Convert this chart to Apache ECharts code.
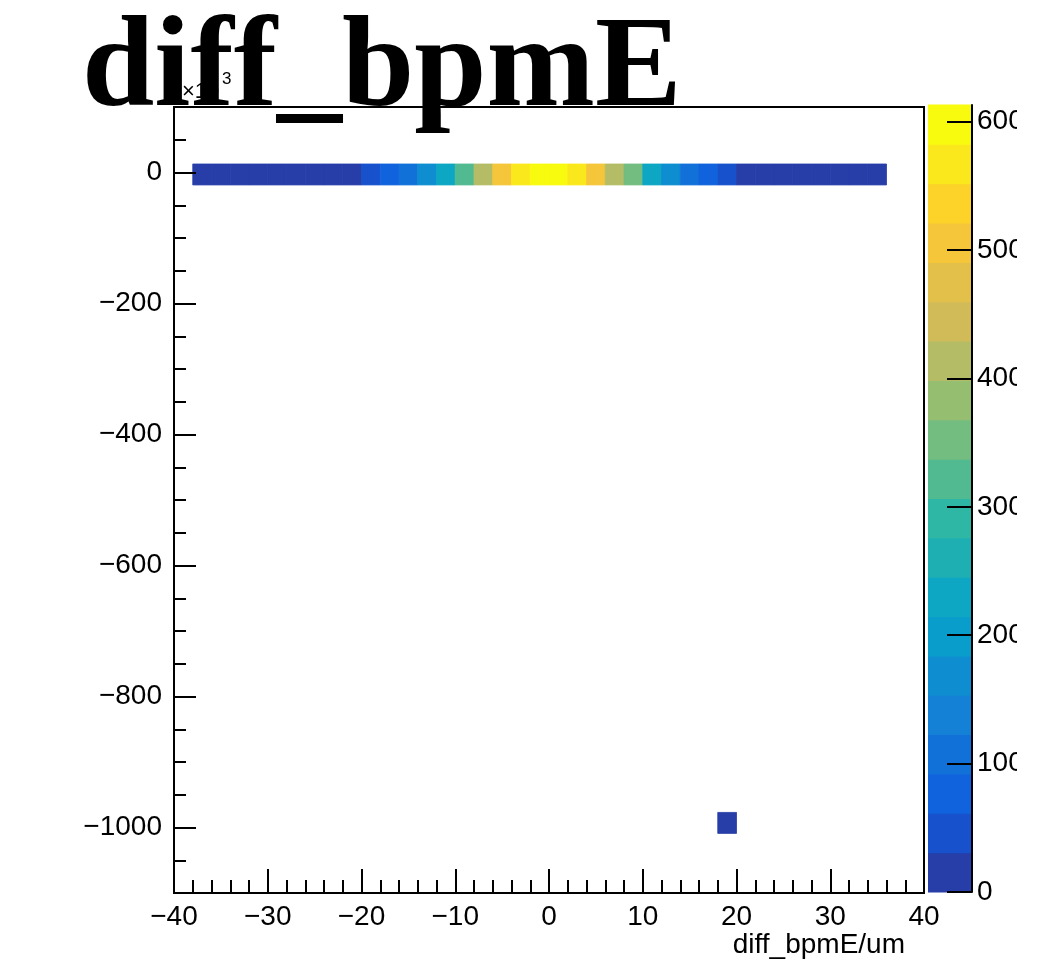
<!DOCTYPE html>
<html><head><meta charset="utf-8">
<script src="https://cdn.jsdelivr.net/npm/echarts@6/dist/echarts.min.js"></script>
<style>html,body{margin:0;padding:0;background:#fff;overflow:hidden}#c{width:1017px;height:974px}</style>
</head><body><div id="c"></div>
<script>
// ---------------- data ----------------
const titleText = 'diff_bpmE';
const xAxisTitle = 'diff_bpmE/um';
const yExponentBase = '\u00d710';
const yExponent = '3';
const xBinWidth = 2;
// left edges of the populated x bins of the row around y = 0
const rowXLow = [-38,-36,-34,-32,-30,-28,-26,-24,-22,-20,-18,-16,-14,-12,-10,-8,-6,-4,-2,0,2,4,6,8,10,12,14,16,18,20,22,24,26,28,30,32,34];
const rowCounts = [3,4,5,7,9,12,16,21,27,46,76,108,168,230,322,414,505,567,583,584,568,506,413,352,229,167,107,77,47,26,20,15,11,8,6,4,3];
const rowYLow = -19, rowYHigh = 13;          // y bin (x10^3)
// the single isolated bin near y = -1000
const outlierXLow = [18];
const outlierYLow = [-1009];
const outlierYHigh = [-977];
const outlierCounts = [1];
// axis ranges
const xMin = -40, xMax = 40;
const yMin = -1100, yMax = 100;
const zMax = 613;
const nContours = 20;
const colorbarTicks = [0, 100, 200, 300, 400, 500, 600];

// ---------------- palette (ROOT kBird) ----------------
const birdStops = [0.0, 0.125, 0.25, 0.375, 0.5, 0.625, 0.75, 0.875, 1.0];
const birdR = [0.2082, 0.0592, 0.0780, 0.0232, 0.1802, 0.5301, 0.8186, 0.9956, 0.9764];
const birdG = [0.1664, 0.3599, 0.5041, 0.6419, 0.7178, 0.7492, 0.7328, 0.7862, 0.9832];
const birdB = [0.5293, 0.8684, 0.8385, 0.7914, 0.6425, 0.4662, 0.3499, 0.1968, 0.0539];
function birdColor(f) {
  let k = 0;
  while (k < birdStops.length - 2 && f > birdStops[k + 1]) k++;
  const t = (f - birdStops[k]) / (birdStops[k + 1] - birdStops[k]);
  const c = a => Math.round(255 * (a[k] + (a[k + 1] - a[k]) * t));
  return 'rgb(' + c(birdR) + ',' + c(birdG) + ',' + c(birdB) + ')';
}
const bandColors = [];
for (let i = 0; i < nContours; i++) {
  const idx = Math.floor((i + 0.99) * 255 / nContours);
  bandColors.push(birdColor(Math.min(idx, 254) / 254));
}
const bandStep = zMax / nContours;
const pieces = bandColors.map((c, i) => (i === nContours - 1)
  ? { gte: i * bandStep, lte: zMax * 10, color: c }
  : { gte: i * bandStep, lt: (i + 1) * bandStep, color: c });

// ---------------- build cells ----------------
const cells = [];
rowXLow.forEach((x, i) => {
  if (rowCounts[i] > 0) cells.push([x, x + xBinWidth, rowYLow, rowYHigh, rowCounts[i]]);
});
outlierXLow.forEach((x, i) => {
  cells.push([x, x + xBinWidth, outlierYLow[i], outlierYHigh[i], outlierCounts[i]]);
});
const bands = bandColors.map((c, i) => [0, 1, i * bandStep, (i + 1) * bandStep, i]);

const minus = v => String(v).replace('-', '\u2212');
const FONT = '"Liberation Sans", Arial, Helvetica, sans-serif';
const LBL = 28;

const chart = echarts.init(document.getElementById('c'), null, { renderer: 'canvas' });
chart.setOption({
  backgroundColor: '#fff',
  animation: false,
  grid: [
    { left: 174, width: 750, top: 107, bottom: 81, show: true, borderColor: '#000', borderWidth: 2, backgroundColor: 'transparent', containLabel: false, outerBoundsMode: 'none' },
    { left: 928, width: 44, top: 105, bottom: 82, containLabel: false, outerBoundsMode: 'none' }
  ],
  xAxis: [
    {
      type: 'value', gridIndex: 0, min: xMin, max: xMax, interval: 10, z: 10,
      axisLine: { show: true, onZero: false, lineStyle: { color: '#000', width: 2 } },
      axisTick: { show: true, inside: true, length: 24, lineStyle: { color: '#000', width: 2 } },
      minorTick: { show: true, splitNumber: 5, length: 13, lineStyle: { color: '#000', width: 2 } },
      splitLine: { show: false },
      axisLabel: { show: true, margin: 10, color: '#000', fontFamily: FONT, fontSize: LBL, showMinLabel: true, showMaxLabel: true, formatter: minus }
    },
    {
      type: 'value', gridIndex: 1, min: 0, max: 1, show: false
    }
  ],
  yAxis: [
    {
      type: 'value', gridIndex: 0, min: yMin, max: yMax, splitNumber: 6, z: 10,
      axisLine: { show: true, onZero: false, lineStyle: { color: '#000', width: 2 } },
      axisTick: { show: true, inside: true, length: 22, lineStyle: { color: '#000', width: 2 } },
      minorTick: { show: true, splitNumber: 4, length: 12, lineStyle: { color: '#000', width: 2 } },
      splitLine: { show: false },
      axisLabel: { show: true, margin: 12, color: '#000', fontFamily: FONT, fontSize: LBL, showMinLabel: false, showMaxLabel: false, formatter: minus }
    },
    {
      type: 'value', gridIndex: 1, min: 0, max: zMax, position: 'right', z: 10,
      axisLine: { show: true, onZero: false, lineStyle: { color: '#000', width: 2 } },
      axisTick: { show: true, inside: true, length: 25, customValues: colorbarTicks, lineStyle: { color: '#000', width: 2 } },
      splitLine: { show: false },
      axisLabel: { show: true, margin: 5, color: '#000', fontFamily: FONT, fontSize: LBL, customValues: colorbarTicks }
    }
  ],
  visualMap: {
    type: 'piecewise', show: false, dimension: 4, seriesIndex: 0, pieces: pieces
  },
  series: [
    {
      type: 'custom', xAxisIndex: 0, yAxisIndex: 0, data: cells, z: 2,
      encode: { x: [0, 1], y: [2, 3] },
      renderItem: function (params, api) {
        const p0 = api.coord([api.value(0), api.value(3)]);
        const p1 = api.coord([api.value(1), api.value(2)]);
        const col = api.visual('color');
        return { type: 'rect', shape: { x: p0[0], y: p0[1], width: p1[0] - p0[0], height: p1[1] - p0[1] },
                 style: { fill: col, stroke: col, lineWidth: 0.8 } };
      }
    },
    {
      type: 'custom', xAxisIndex: 1, yAxisIndex: 1, data: bands, z: 2,
      encode: { x: [0, 1], y: [2, 3] },
      renderItem: function (params, api) {
        const p0 = api.coord([api.value(0), api.value(3)]);
        const p1 = api.coord([api.value(1), api.value(2)]);
        return { type: 'rect', shape: { x: p0[0], y: p0[1] - 0.5, width: p1[0] - p0[0], height: p1[1] - p0[1] + 1 },
                 style: { fill: bandColors[api.value(4)] } };
      }
    }
  ],
  graphic: [
    {
      type: 'text', x: 182, y: 103, z: 10,
      style: { text: yExponentBase, fontFamily: FONT, fontSize: 22, fill: '#000', align: 'left', verticalAlign: 'bottom' }
    },
    {
      type: 'text', x: 222, y: 88, z: 10,
      style: { text: yExponent, fontFamily: FONT, fontSize: 17, fill: '#000', align: 'left', verticalAlign: 'bottom' }
    },
    {
      type: 'text', x: 82, y: 71, z: 100,
      style: { text: titleText, fontFamily: '"Liberation Serif", "Times New Roman", serif', fontWeight: 'bold', fontSize: 130, fill: '#000', verticalAlign: 'middle', align: 'left' }
    },
    {
      type: 'text', x: 905, y: 945, z: 10,
      style: { text: xAxisTitle, fontFamily: FONT, fontSize: LBL, fill: '#000', align: 'right', verticalAlign: 'middle' }
    }
  ]
});
</script>
</body></html>
